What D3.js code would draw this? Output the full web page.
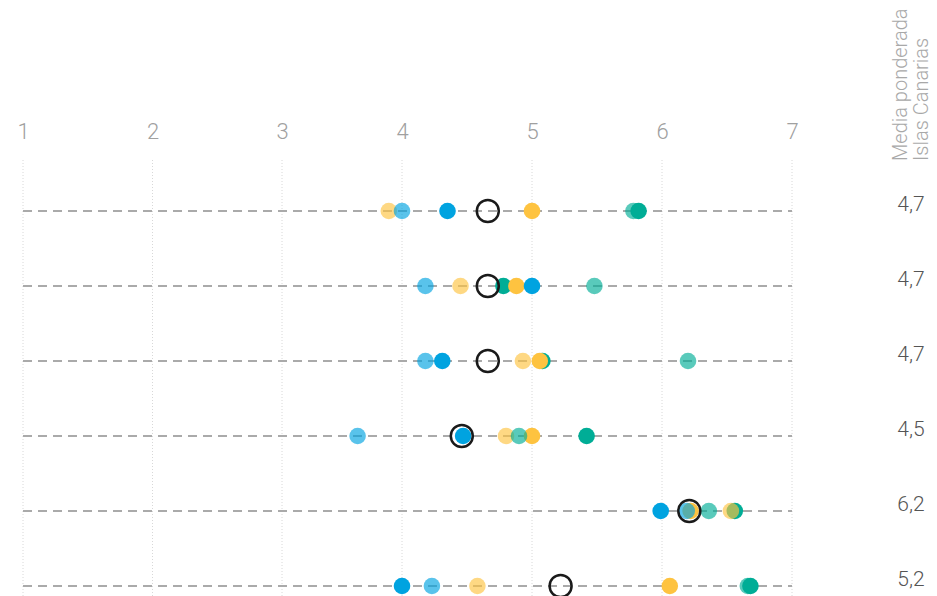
<!DOCTYPE html>
<html>
<head>
<meta charset="utf-8">
<script src="https://cdn.jsdelivr.net/npm/d3@7"></script>
<style>
  body { margin: 0; background: #fff; }
  text { font-family: Roboto, "Open Sans", sans-serif; }
</style>
</head>
<body>
<div id="chart"></div>
<script>
// escala de valoración 1-7
var ticks = [1, 2, 3, 4, 5, 6, 7];

// una fila por pregunta; cada serie es un grupo
var rows = [0, 1, 2, 3, 4, 5];
var tealSolid   = [5.82, 4.78, 5.08, 5.42, 6.56, 6.68];
var yellowSolid = [5.0, 4.88, 5.06, 5.0, 6.22, 6.06];
var blueSolid   = [4.35, 5.0, 4.31, 4.47, 5.99, 4.0];
var yellowLight = [3.89, 4.45, 4.93, 4.8, 6.53, 4.58];
var tealLight   = [5.78, 5.48, 6.2, 4.9, 6.36, 6.66];
var blueLight   = [4.0, 4.18, 4.18, 3.63, 6.19, 4.23];

var means = [4.66, 4.66, 4.66, 4.46, 6.21, 5.22];
var meanLabels = ["4,7", "4,7", "4,7", "4,5", "6,2", "5,2"];

var series = [
  {values: tealSolid,   color: "#00ad96", light: false},
  {values: yellowSolid, color: "#fec340", light: false},
  {values: blueSolid,   color: "#00a3e0", light: false},
  {values: yellowLight, color: "#fec340", light: true},
  {values: tealLight,   color: "#00ad96", light: true},
  {values: blueLight,   color: "#00a3e0", light: true}
];

var width = 937, height = 596;

var svg = d3.select("#chart").append("svg")
  .attr("width", width)
  .attr("height", height);

var x = d3.scaleLinear()
  .domain([1, 3, 4, 7])
  .range([23, 282, 402, 792]);

var y = d3.scalePoint()
  .domain(rows)
  .range([211, 586]);

// líneas verticales punteadas
svg.append("g").selectAll("line")
  .data(ticks)
  .enter().append("line")
  .attr("x1", function(d){ return x(d); })
  .attr("x2", function(d){ return x(d); })
  .attr("y1", 160)
  .attr("y2", height)
  .style("stroke", "#d8d8d8")
  .style("stroke-width", 1)
  .style("stroke-dasharray", "1,2");

// eje superior
var axis = svg.append("g")
  .attr("transform", "translate(0,139)")
  .call(d3.axisTop(x).tickValues(ticks).tickFormat(d3.format("d")).tickSize(0).tickPadding(0));
axis.select(".domain").remove();
axis.selectAll("text")
  .style("font-size", "22px")
  .style("font-weight", 300)
  .style("fill", "#a0a0a0")
  .style("font-family", "Roboto, sans-serif");

// líneas discontinuas de cada fila
svg.append("g").selectAll("line")
  .data(rows)
  .enter().append("line")
  .attr("x1", x(1))
  .attr("x2", x(7))
  .attr("y1", function(d){ return y(d); })
  .attr("y2", function(d){ return y(d); })
  .style("stroke", "#aaaaaa")
  .style("stroke-width", 2)
  .style("stroke-dasharray", "9,6");

// puntos
series.forEach(function(s){
  svg.append("g").selectAll("circle")
    .data(s.values)
    .enter().append("circle")
    .attr("cx", function(d){ return x(d); })
    .attr("cy", function(d, i){ return y(rows[i]); })
    .attr("r", 8.3)
    .style("fill", s.color)
    .style("opacity", s.light ? 0.65 : 1);
});

// media ponderada
svg.append("g").selectAll("circle")
  .data(means)
  .enter().append("circle")
  .attr("cx", function(d){ return x(d); })
  .attr("cy", function(d, i){ return y(rows[i]); })
  .attr("r", 11)
  .style("fill", "none")
  .style("stroke", "#1a1a1a")
  .style("stroke-width", 2.5);

svg.append("g").selectAll("text")
  .data(meanLabels)
  .enter().append("text")
  .attr("x", 911)
  .attr("y", function(d, i){ return y(rows[i]); })
  .attr("text-anchor", "middle")
  .style("font-size", "21px")
  .style("font-weight", 300)
  .style("fill", "#555")
  .text(function(d){ return d; });

// cabecera girada
var head = svg.append("g")
  .attr("transform", "translate(907,161) rotate(-90)");
head.append("text")
  .attr("x", 0).attr("y", 0)
  .style("font-size", "20px")
  .style("font-weight", 300)
  .style("fill", "#a8a8a8")
  .text("Media ponderada");
head.append("text")
  .attr("x", 0).attr("y", 21)
  .style("font-size", "20px")
  .style("font-weight", 300)
  .style("fill", "#a8a8a8")
  .text("Islas Canarias");
</script>
</body>
</html>
